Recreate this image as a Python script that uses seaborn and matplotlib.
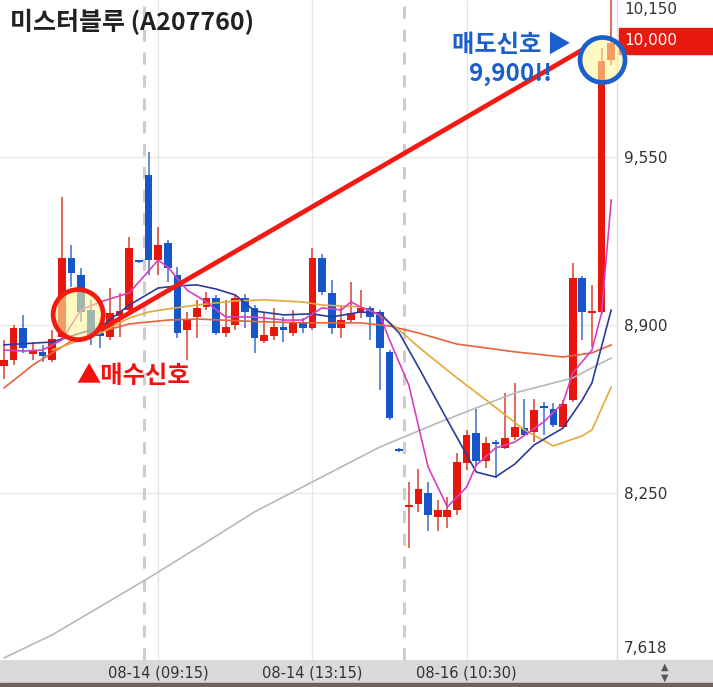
import numpy as np
import pandas as pd
import matplotlib
matplotlib.use("Agg")
import matplotlib.pyplot as plt
import matplotlib.transforms as mtransforms
from matplotlib.patches import Rectangle
import seaborn as sns

sns.set_theme(style="white")
plt.rcParams['font.family'] = ['Noto Sans CJK KR', 'DejaVu Sans']

# ---------------- 데이터 ----------------
title = "미스터블루 (A207760)"

# 캔들 (분봉) : 시가 / 고가 / 저가 / 종가
opens = [8740, 8765, 8888, 8788, 8796, 8765, 8854, 9159, 9093, 8958,
         8869, 8854, 8935, 8958, 9148, 9480, 9151, 9217, 9093, 8881,
         8931, 8970, 9004, 8869, 8900, 9004, 8966, 8838, 8857, 8892,
         8869, 8912, 8888, 9159, 9024, 8888, 8919, 8946, 8966, 8950,
         8796, 8420, 8196, 8207, 8250, 8157, 8157, 8184, 8366, 8482,
         8374, 8447, 8424, 8467, 8502, 8486, 8587, 8575, 8505, 8610,
         9082, 8946, 8950, 9925]
highs = [8840, 8900, 8939, 8834, 8823, 8881, 9395, 9210, 9120, 8997,
         8900, 9043, 9024, 9240, 9150, 9569, 9279, 9229, 9124, 8950,
         8997, 9028, 9016, 8997, 9016, 9020, 8977, 8946, 8966, 8931,
         8958, 8927, 9198, 9175, 9074, 8977, 9066, 9035, 8973, 8958,
         8803, 8424, 8293, 8343, 8293, 8223, 8235, 8405, 8494, 8575,
         8467, 8455, 8637, 8676, 8614, 8614, 8602, 8598, 8610, 9140,
         9090, 9055, 9972, 10250]
lows = [8690, 8745, 8792, 8765, 8757, 8757, 8842, 9047, 8912, 8823,
        8811, 8842, 8854, 8946, 9140, 9093, 9093, 9066, 8850, 8765,
        8850, 8958, 8861, 8854, 8881, 8888, 8792, 8830, 8842, 8834,
        8857, 8869, 8881, 9016, 8865, 8850, 8912, 8927, 8842, 8649,
        8532, 8409, 8037, 8176, 8103, 8103, 8115, 8165, 8339, 8354,
        8347, 8308, 8420, 8455, 8470, 8447, 8474, 8505, 8502, 8602,
        8842, 8815, 8942, 9906]
closes = [8765, 8888, 8811, 8803, 8780, 8846, 9159, 9101, 8950, 8861,
          8857, 8946, 8954, 9198, 9144, 9151, 9210, 9121, 8869, 8919,
          8966, 9004, 8869, 8892, 9004, 8950, 8850, 8861, 8892, 8881,
          8912, 8888, 9159, 9028, 8888, 8919, 8946, 8966, 8931, 8811,
          8540, 8412, 8204, 8265, 8165, 8184, 8184, 8370, 8474, 8374,
          8443, 8440, 8463, 8505, 8474, 8571, 8579, 8513, 8594, 9082,
          8950, 8954, 9920, 9990]

# 이동평균선
ma5_idx = [0, 2, 4, 6, 8, 10, 13, 16, 17, 19, 21, 23, 26, 29, 31, 33, 35, 36,
           37, 39, 40, 42, 44, 46, 48, 49, 51, 53, 56, 58, 59, 61, 62, 63]
ma5 = [8803, 8799, 8803, 8842, 8958, 8989, 9024, 9151, 9124, 9035, 8989, 8931,
       8931, 8919, 8919, 8966, 8958, 8989, 8970, 8939, 8842, 8668, 8351, 8196,
       8273, 8358, 8424, 8447, 8525, 8598, 8714, 8803, 8946, 9384]
ma10_idx = [0, 5, 8, 10, 13, 16, 18, 20, 22, 24, 26, 29, 32, 34, 37, 39, 41,
            43, 46, 49, 51, 53, 55, 58, 60, 61, 63]
ma10 = [8823, 8834, 8869, 8892, 8977, 9043, 9051, 9055, 9039, 9016, 8954, 8939,
        8943, 8931, 8950, 8946, 8869, 8737, 8532, 8331, 8312, 8362, 8436, 8501,
        8610, 8676, 8958]
ma20_idx = [5, 8, 10, 13, 15, 17, 20, 24, 27, 31, 33, 37, 39, 41, 43, 47, 50,
            54, 57, 60, 61, 63]
ma20 = [8803, 8842, 8869, 8927, 8950, 8962, 8977, 8993, 8997, 8989, 8977, 8970,
        8939, 8881, 8815, 8695, 8610, 8494, 8432, 8471, 8494, 8660]
ma60_idx = [0, 3, 7, 10, 13, 17, 20, 27, 32, 37, 40, 43, 47, 53, 58, 61, 63]
ma60 = [8656, 8745, 8838, 8873, 8904, 8919, 8923, 8912, 8908, 8908, 8896, 8869,
        8826, 8796, 8776, 8792, 8823]
ma120_idx = [0, 5, 15, 21, 26, 32, 39, 45, 53, 59, 61, 63]
ma120 = [7612, 7701, 7921, 8060, 8177, 8293, 8428, 8521, 8637, 8695, 8734, 8772]

# 축 눈금
ytick_vals = [7618, 8250, 8900, 9550, 10150]
ytick_labels = ["7,618", "8,250", "8,900", "9,550", "10,150"]
xtick_idx = [16, 32, 48]
xtick_labels = ["08-14 (09:15)", "08-14 (13:15)", "08-16 (10:30)"]
day_breaks = [14.5, 41.5]

# 신호
buy_circle = (7.7, 8940)
sell_circle = (62.1, 9925)
signal_line_x = [10.0, 60.0]
signal_line_y = [8881, 9964]
buy_text = "▲매수신호"
sell_text = "매도신호 ▶"
sell_price_text = "9,900!!"
last_price = 10000

# ---------------- 그림 ----------------
W, H = 713, 687
fig = plt.figure(figsize=(W / 100, H / 100), dpi=100)
ax = fig.add_axes([0, 27 / H, 617 / W, 660 / H])
ax.set_facecolor("white")

RED = "#e8170e"
BLUE = "#1656c8"

idx = np.arange(len(closes))
o = np.array(opens); c = np.array(closes)
up = c >= o
body_bot = np.minimum(o, c)
body_h = np.maximum(np.abs(c - o), 9)

# 격자
for v in [8250, 8900, 9550]:
    ax.axhline(v, color="#e9e9e9", lw=1, zorder=0)
for v in xtick_idx:
    ax.axvline(v, color="#e6e6e6", lw=1, zorder=0)
for v in day_breaks:
    ax.axvline(v, color="#cdcdcd", lw=2.2, ls=(0, (4, 3.5)), zorder=0)

# 캔들
ax.vlines(idx[up], np.array(lows)[up], np.array(highs)[up], color="#d8402c", lw=1.1, zorder=2)
ax.vlines(idx[~up], np.array(lows)[~up], np.array(highs)[~up], color="#3a6fd0", lw=1.1, zorder=2)
ax.bar(idx[up], body_h[up], bottom=body_bot[up], width=0.8, color=RED, lw=0, zorder=3)
ax.bar(idx[~up], body_h[~up], bottom=body_bot[~up], width=0.8, color=BLUE, lw=0, zorder=3)

# 이동평균선
ma_df = pd.concat([
    pd.DataFrame({"idx": ma120_idx, "price": ma120, "ma": "120"}),
    pd.DataFrame({"idx": ma60_idx, "price": ma60, "ma": "60"}),
    pd.DataFrame({"idx": ma20_idx, "price": ma20, "ma": "20"}),
    pd.DataFrame({"idx": ma10_idx, "price": ma10, "ma": "10"}),
    pd.DataFrame({"idx": ma5_idx, "price": ma5, "ma": "5"}),
])
palette = {"120": "#b8b8b8", "60": "#e8623c", "20": "#e3a93a", "10": "#2c3b9c", "5": "#d640c0"}
sns.lineplot(data=ma_df, x="idx", y="price", hue="ma", palette=palette,
             estimator=None, lw=1.2, legend=False, ax=ax, zorder=4)

# 신호선 / 원
ax.plot(signal_line_x, signal_line_y, color="#f21a12", lw=3.4, solid_capstyle="butt", zorder=5)
for (cx, cy), size, ring in [(buy_circle, 1300, "#f01a10"), (sell_circle, 1050, "#1a5fcc")]:
    ax.scatter(cx, cy, s=size, facecolor="#fff59d", alpha=0.6, lw=0, zorder=6, clip_on=False)
    ax.scatter(cx, cy, s=size, facecolor="none", edgecolor=ring, lw=3.4, zorder=7, clip_on=False)

ax.text(7.5, 8703, buy_text, color="#f51010", fontsize=17.5, fontweight="bold",
        ha="left", va="center", zorder=8)
ax.text(52.7, 9985, sell_text, color="#1c5fcc", fontsize=17.5, fontweight="bold",
        ha="center", va="center", zorder=8)
ax.text(52.5, 9872, sell_price_text, color="#1c5fcc", fontsize=17.5, fontweight="bold",
        ha="center", va="center", zorder=8)

# 축
ax.set_xlim(-0.41, 63.6)
ax.set_ylim(7604, 10157)
ax.yaxis.tick_right()
ax.set_yticks(ytick_vals)
ax.set_yticklabels(ytick_labels, family="DejaVu Sans")
for lab, v in zip(ax.get_yticklabels(), ytick_vals):
    if v == max(ytick_vals):
        lab.set_va("top")
    elif v == min(ytick_vals):
        lab.set_va("bottom")
ax.tick_params(axis="y", length=0, pad=5, labelsize=11, labelcolor="#333333")
ax.set_xticks(xtick_idx)
ax.set_xticklabels(xtick_labels, family="DejaVu Sans")
ax.tick_params(axis="x", length=0, pad=4, labelsize=10.5, labelcolor="#333333")
ax.set_xlabel(""); ax.set_ylabel("")
for s in ["left", "top", "bottom"]:
    ax.spines[s].set_visible(False)
ax.spines["right"].set_color("#dddddd")
ax.spines["right"].set_linewidth(1)

# 현재가 박스
tr = mtransforms.blended_transform_factory(ax.transAxes, ax.transData)
ax.add_patch(Rectangle((1.004, last_price - 50), 0.16, 100, transform=tr,
                       color="#e8190f", clip_on=False, zorder=5))
ax.text(1.012, last_price, f"{last_price:,}", transform=tr, color="white",
        fontsize=11, va="center", ha="left", family="DejaVu Sans", zorder=5.5)

# 하단 바
fig.patches.append(Rectangle((0, 0), 1, 27 / H, transform=fig.transFigure,
                             color="#d9d9d9", zorder=-1))
fig.patches.append(Rectangle((0, 0), 1, 4 / H, transform=fig.transFigure,
                             color="#6e625c", zorder=-1))
fig.text(665 / W, 1 - 667 / H, "▲", fontsize=7, color="#555555", ha="center", va="center",
         family="DejaVu Sans")
fig.text(665 / W, 1 - 678 / H, "▼", fontsize=7, color="#555555", ha="center", va="center",
         family="DejaVu Sans")

fig.text(10 / W, 1 - 22 / H, title, fontsize=18, fontweight="bold", color="#222222",
         ha="left", va="center")

fig.savefig("out.png", dpi=100)
